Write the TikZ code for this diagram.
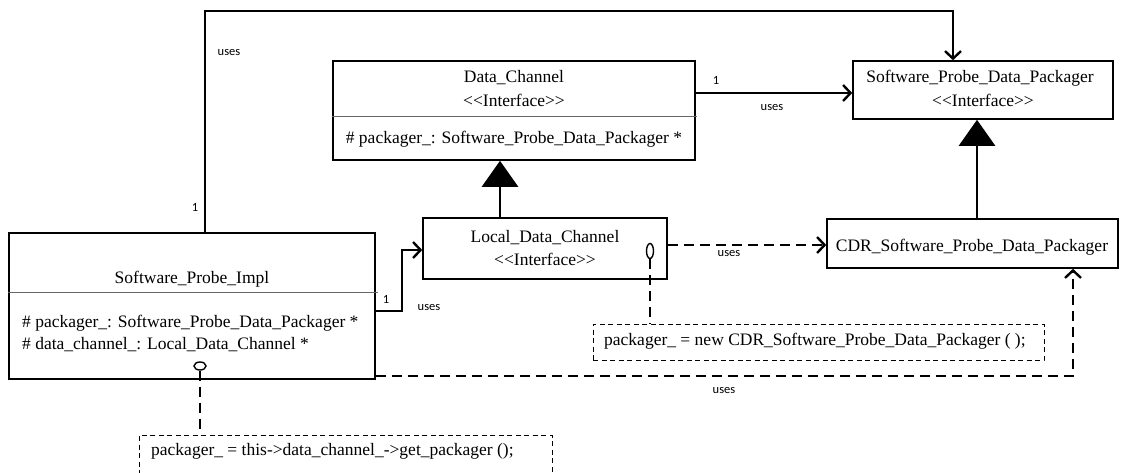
\documentclass[tikz,border=0pt]{standalone}
\usepackage{fontspec}
\setmainfont{Liberation Serif}
\newfontfamily\boxfont[Ligatures=ResetAll]{Liberation Serif}
\newfontfamily\lblfont{Carlito}
\usetikzlibrary{arrows.meta,shapes.geometric}

\newcommand{\stereo}[1]{\mbox{<}\mbox{<}#1\mbox{>}\mbox{>}}

\tikzset{
  classbox/.style={draw,line width=1.6pt,inner sep=0pt},
  notebox/.style={draw,line width=1pt,dash pattern=on 5pt off 3.5pt,inner sep=0pt},
  txt/.style={font=\boxfont\fontsize{17.5}{21}\selectfont,inner sep=0pt},
  lbl/.style={font=\lblfont\fontsize{12.5}{14}\selectfont,inner sep=0pt},
  pin/.style={ellipse,draw,line width=1.4pt,inner sep=0pt},
  assoc/.style={line width=2.7pt,-{Straight Barb[length=7.5pt,width=16pt,line width=2.4pt]}},
  dep/.style={assoc,dash pattern=on 10pt off 6pt},
  inherit/.style={line width=2.7pt,-{Triangle[length=26pt,width=36pt]}},
  notelink/.style={line width=2.7pt,dash pattern=on 10pt off 6pt}
}

\begin{document}
\begin{tikzpicture}[x=1pt,y=-1pt]
  \useasboundingbox (0,0) rectangle (1136,472);

  % class boxes
  \node[classbox,minimum width=366pt,minimum height=146pt] (impl) at (192,306) {};
  \node[classbox,minimum width=362pt,minimum height=99pt] (dc) at (514,110.5) {};
  \node[classbox,minimum width=244pt,minimum height=61pt] (ldc) at (545,248.5) {};
  \node[classbox,minimum width=260pt,minimum height=58pt] (spdp) at (983,90) {};
  \node[classbox,minimum width=291pt,minimum height=49pt] (cdr) at (972.5,243.5) {};

  % notes
  \node[notebox,minimum width=413pt,minimum height=40pt] (note1) at (345.5,455) {};
  \node[notebox,minimum width=451pt,minimum height=36pt] (note2) at (818.5,342) {};

  % compartments
  \draw[line width=0.8pt,gray!80!black] (impl.west |- 0,292) -- (378,292);
  \draw[line width=0.8pt,gray!80!black] (dc.west |- 0,116) -- (697,116);

  % texts
  \node[txt] (implname) at (192,279) {Software\_Probe\_Impl};
  \node[txt,anchor=west] (implattra) at (22,323) {\# packager\_: Software\_Probe\_Data\_Packager *};
  \node[txt,anchor=west] (implattrb) at (22,345) {\# data\_channel\_: Local\_Data\_Channel *};
  \node[txt] (dcname) at (514,78) {Data\_Channel};
  \node[txt] (dcster) at (514,100) {\stereo{Interface}};
  \node[txt] (dcattr) at (514,139) {\# packager\_: Software\_Probe\_Data\_Packager *};
  \node[txt] (ldcname) at (545,238) {Local\_Data\_Channel};
  \node[txt] (ldcster) at (545,259) {\stereo{Interface}};
  \node[txt] (spdpname) at (980,78) {Software\_Probe\_Data\_Packager};
  \node[txt] (spdpster) at (983,100) {\stereo{Interface}};
  \node[txt] (cdrname) at (972,247) {CDR\_Software\_Probe\_Data\_Packager};
  \node[txt,anchor=west] (note1txt) at (151,451) {packager\_ = this->data\_channel\_->get\_packager ();};
  \node[txt,anchor=west] (note2txt) at (604,341) {packager\_ = new CDR\_Software\_Probe\_Data\_Packager ( );};

  % attachment points
  \node[pin,minimum width=12pt,minimum height=8pt] (implpin) at (200,366) {};
  \node[pin,minimum width=7pt,minimum height=15pt] (ldcpin) at (650,251) {};

  % bends
  \coordinate (topl) at (205,11);
  \coordinate (topr) at (953,11);
  \coordinate (bend) at (402,311);
  \coordinate (dcorner) at (1073,376);

  % associations
  \draw[assoc] (impl.north -| topl) -- (topl) -- (topr) -- (spdp.north -| topr);
  \draw[assoc] (dc.east |- 0,93) -- (spdp.west |- 0,93);
  \draw[assoc] (impl.east |- bend) -- (bend) |- (ldc.west |- 0,250);
  \draw[dep] (ldc.east |- 0,245) -- (cdr.west |- 0,245);
  \draw[dep] (impl.east |- dcorner) -- (dcorner) -- (cdr.south -| dcorner);

  % generalisations
  \draw[inherit] ([xshift=-45pt]ldc.north) -- ([xshift=-45pt]ldc.north |- dc.south);
  \draw[inherit] ([xshift=4.5pt]cdr.north) -- ([xshift=4.5pt]cdr.north |- spdp.south);

  % note links
  \draw[notelink] (implpin) -- (implpin |- note1.north);
  \draw[notelink] (ldcpin) -- (ldcpin |- note2.north);

  % labels
  \node[lbl] (usesa) at (229,53) {uses};
  \node[lbl] (onea) at (195,207) {1};
  \node[lbl] (oneb) at (716,80) {1};
  \node[lbl] (usesb) at (772,108) {uses};
  \node[lbl] (onec) at (386,299) {1};
  \node[lbl] (usesc) at (429,308) {uses};
  \node[lbl] (usesd) at (729,254) {uses};
  \node[lbl] (usese) at (724,391) {uses};
\end{tikzpicture}
\end{document}
